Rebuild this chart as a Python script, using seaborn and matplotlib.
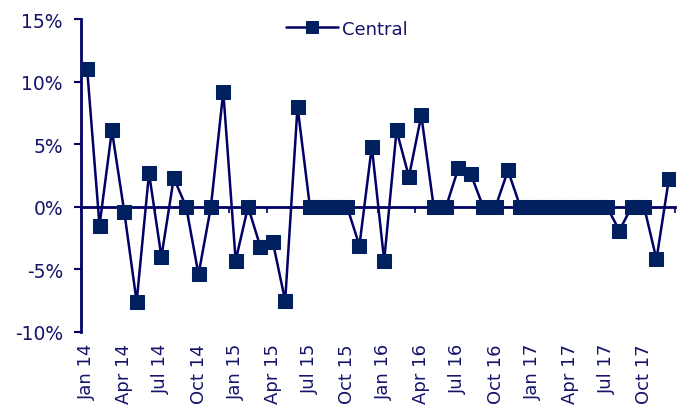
import numpy as np
import pandas as pd
import matplotlib
matplotlib.use("Agg")
import matplotlib.pyplot as plt
import seaborn as sns
from matplotlib.ticker import FuncFormatter, FixedLocator

# Monthly change, Jan 2014 - Dec 2017 (percent)
months = ["Jan", "Feb", "Mar", "Apr", "May", "Jun",
          "Jul", "Aug", "Sep", "Oct", "Nov", "Dec"]
years = ["14", "15", "16", "17"]
periods = [f"{m} {y}" for y in years for m in months]

central = [
    11.0, -1.5, 6.1, -0.4, -7.6, 2.7, -4.0, 2.3, 0.0, -5.4, 0.0, 9.2,   # 2014
    -4.3, 0.0, -3.2, -2.8, -7.5, 8.0, 0.0, 0.0, 0.0, 0.0, -3.1, 4.8,    # 2015
    -4.3, 6.1, 2.4, 7.3, 0.0, 0.0, 3.1, 2.6, 0.0, 0.0, 2.9, 0.0,        # 2016
    0.0, 0.0, 0.0, 0.0, 0.0, 0.0, 0.0, -1.9, 0.0, 0.0, -4.2, 2.2,       # 2017
]

y_ticks = [-10, -5, 0, 5, 10, 15]

navy = "#000066"
text_navy = "#14146b"
marker_fill = "#00205f"

df = pd.DataFrame({"idx": np.arange(len(periods)), "period": periods, "value": central})

sns.set_style("white")
plt.rcParams["font.family"] = ["DejaVu Sans"]

fig = plt.figure(figsize=(6.86, 4.10), dpi=100)
ax = fig.add_axes([0.118, 0.188, 0.866, 0.763])

sns.lineplot(data=df, x="idx", y="value", ax=ax, color=navy, linewidth=1.8,
             marker="s", markersize=10, markerfacecolor=marker_fill,
             markeredgecolor=marker_fill, label="Central", zorder=3)

ax.set_xlim(-0.5, len(periods) - 0.5)
ax.set_ylim(-10, 15)
ax.set_xlabel("")
ax.set_ylabel("")

# y axis
ax.yaxis.set_major_locator(FixedLocator(y_ticks))
ax.yaxis.set_major_formatter(FuncFormatter(lambda v, p: f"{v:.0f}%"))
ax.tick_params(axis="y", direction="out", length=5, width=1.5, color=navy,
               labelcolor=text_navy, labelsize=13.5, pad=8, left=True)

# x labels every quarter at bottom
q_idx = list(range(0, len(periods), 3))
ax.set_xticks(q_idx)
ax.set_xticklabels([periods[i] for i in q_idx], rotation=90, color=text_navy, fontsize=13)
ax.tick_params(axis="x", length=0, pad=8)

for side in ["top", "right", "bottom"]:
    ax.spines[side].set_visible(False)
ax.spines["left"].set_color(navy)
ax.spines["left"].set_linewidth(2)

# zero line as a category axis with quarter boundary ticks
zero_frac = (0 - (-10)) / (15 - (-10))
sec = ax.secondary_xaxis(zero_frac)
sec.set_xticks([i - 0.5 for i in q_idx] + [len(periods) - 0.5])
sec.set_xticklabels([])
sec.tick_params(axis="x", direction="out", length=4, width=1.2, color=navy)
sec.spines["bottom"].set_color(navy)
sec.spines["bottom"].set_linewidth(2)
sec.set_zorder(1)

leg = ax.legend(loc="upper center", bbox_to_anchor=(0.447, 1.05), frameon=False,
                fontsize=13, handlelength=2.9, handletextpad=0.2, markerscale=0.85)
for t in leg.get_texts():
    t.set_color(text_navy)

fig.savefig("out.png", dpi=100)
